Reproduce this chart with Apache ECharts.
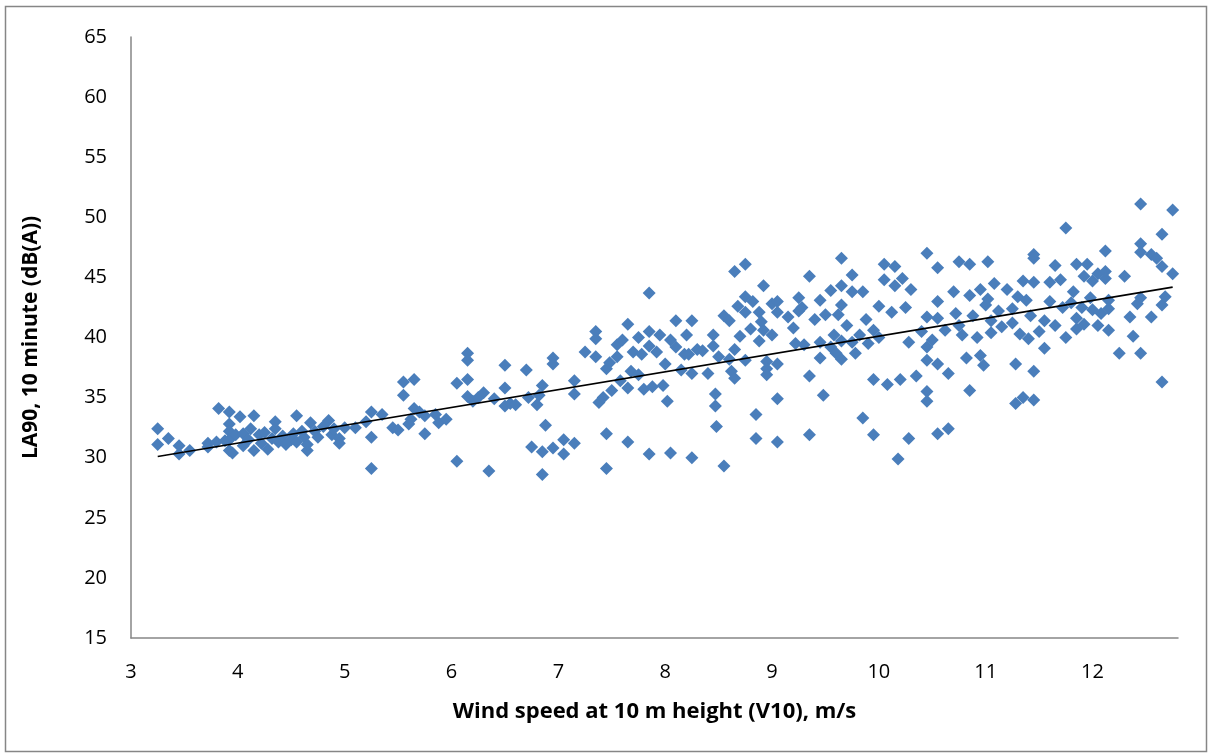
<!DOCTYPE html>
<html><head><meta charset="utf-8">
<script src="https://cdn.jsdelivr.net/npm/echarts@6/dist/echarts.min.js"></script>
<style>html,body{margin:0;padding:0;background:#fff}#c{width:1212px;height:756px}</style>
</head><body><div id="c"></div>
<script>
// Wind speed (m/s) at 10 m height
const windSpeed = [
3.25,3.25,3.35,3.45,3.45,3.55,3.72,3.72,3.8,3.82,3.88,3.92,3.92,3.92,3.92,3.92,3.95,3.98,
4.02,4.05,4.05,4.1,4.12,4.15,4.15,4.2,4.22,4.25,4.28,4.32,4.35,4.35,4.38,4.42,4.45,4.5,4.52,4.55,4.55,4.6,4.62,4.65,4.65,4.68,4.72,4.75,4.8,4.85,4.88,4.9,4.95,4.95,5.0,
5.1,5.2,5.25,5.25,5.25,5.35,5.45,5.5,5.55,5.55,5.6,5.62,5.65,5.65,5.7,5.75,5.75,5.85,5.88,5.95,
6.05,6.05,6.15,6.15,6.15,6.15,6.2,6.25,6.3,6.35,6.4,6.5,6.5,6.5,6.55,6.6,6.7,6.72,6.75,6.8,6.82,6.85,6.85,6.88,6.85,6.95,6.95,6.95,7.05,7.05,
7.15,7.15,7.15,7.25,7.35,7.35,7.35,7.38,7.42,7.45,7.45,7.45,7.48,7.5,7.55,7.55,7.58,7.6,7.65,7.65,7.65,7.68,7.7,7.75,7.75,7.78,7.8,7.85,7.85,7.85,7.85,7.88,7.92,7.95,7.98,8.0,
8.02,8.05,8.05,8.1,8.1,8.15,8.18,8.2,8.22,8.25,8.25,8.25,8.3,8.35,8.4,8.45,8.45,8.47,8.47,8.48,8.5,8.55,8.55,8.6,8.6,8.62,8.65,8.65,8.65,8.68,8.7,8.75,8.75,8.75,8.75,8.8,8.82,8.85,8.85,8.88,8.88,8.9,8.92,8.92,8.95,8.95,8.95,9.0,9.0,
9.05,9.05,9.05,9.05,9.05,9.15,9.2,9.22,9.25,9.25,9.28,9.3,9.35,9.35,9.35,9.4,9.45,9.45,9.45,9.48,9.5,9.55,9.55,9.58,9.6,9.62,9.65,9.65,9.65,9.65,9.65,9.7,9.75,9.75,9.75,9.78,9.82,9.85,9.85,9.88,9.9,9.95,9.95,9.95,10.0,10.0,
10.05,10.05,10.08,10.12,10.15,10.15,10.18,10.2,10.22,10.25,10.28,10.28,10.3,10.35,10.4,10.45,10.45,10.45,10.45,10.45,10.45,10.5,10.55,10.55,10.55,10.55,10.55,10.62,10.65,10.65,10.7,10.72,10.75,10.75,10.78,10.82,10.85,10.85,10.85,10.88,10.92,10.95,10.95,10.98,11.0,
11.02,11.02,11.05,11.05,11.08,11.12,11.15,11.2,11.25,11.25,11.28,11.28,11.3,11.32,11.35,11.35,11.38,11.4,11.42,11.45,11.45,11.45,11.45,11.45,11.5,11.55,11.55,11.6,11.6,11.65,11.65,11.7,11.72,11.75,11.75,11.8,11.82,11.85,11.85,11.85,11.9,11.92,11.92,11.95,11.98,12.0,12.0,
12.05,12.05,12.08,12.12,12.12,12.12,12.15,12.15,12.15,12.25,12.3,12.35,12.38,12.42,12.45,12.45,12.45,12.45,12.45,12.55,12.55,12.6,12.65,12.65,12.65,12.65,12.68,12.75,12.75
];
// LA90 10-minute level, dB(A)
const la90 = [
32.4,31.1,31.6,30.3,31.0,30.6,31.2,30.9,31.3,34.1,31.4,33.8,32.8,32.2,31.5,30.6,30.4,31.9,
33.4,32.0,31.0,31.5,32.4,33.5,30.6,31.9,31.2,32.1,30.7,31.6,33.0,32.4,31.3,31.8,31.1,31.5,32.0,33.5,31.3,32.2,31.7,30.6,31.1,32.9,32.2,31.7,32.6,33.1,31.9,32.4,31.6,31.2,32.5,
32.5,33.0,33.8,31.7,29.1,33.6,32.5,32.3,35.2,36.3,32.8,33.2,36.5,34.1,33.8,33.5,32.0,33.6,32.9,33.2,
36.2,29.7,38.7,38.1,36.5,35.1,34.7,35.0,35.4,28.9,34.9,34.3,35.8,37.7,34.5,34.4,37.3,35.0,30.9,34.4,35.2,30.5,28.6,32.7,36.0,38.3,37.8,30.8,31.5,30.3,
36.4,35.3,31.2,38.8,40.5,39.9,38.4,34.6,35.0,32.0,29.1,37.4,37.9,35.6,38.4,39.4,36.4,39.8,41.1,35.8,31.3,37.2,38.8,36.9,40.0,38.6,35.7,43.7,39.3,40.5,30.3,35.9,38.8,40.2,36.0,37.8,
34.7,30.4,39.8,41.4,39.2,37.3,38.6,40.2,38.6,41.4,37.0,30.0,39.0,38.9,37.0,40.2,39.3,35.3,34.3,32.6,38.4,41.8,29.3,41.4,38.2,37.2,45.5,39.0,36.6,42.6,40.1,46.1,43.4,42.1,38.1,40.7,43.0,33.6,31.6,42.1,39.7,41.3,44.3,40.6,38.0,37.4,36.9,42.8,40.2,
43.0,42.1,37.8,34.9,31.3,41.7,40.8,39.5,43.3,42.2,42.5,39.4,45.1,36.8,31.9,41.5,43.1,39.6,38.3,35.2,41.9,43.9,39.2,40.2,38.7,41.9,46.6,44.3,42.7,39.7,38.2,41.0,45.2,43.8,39.6,38.7,40.2,43.8,33.3,41.5,39.5,40.6,36.5,31.9,42.6,40.0,
46.1,44.8,36.1,42.1,44.3,45.9,29.9,36.5,44.9,42.5,31.6,39.6,44.0,36.8,40.5,47.0,41.7,39.2,38.1,35.5,34.7,39.8,45.8,43.0,41.6,37.8,32.0,40.6,37.0,32.4,43.8,42.0,46.3,41.0,40.2,38.3,46.1,43.5,35.6,41.8,40.0,44.0,38.5,37.7,42.7,
46.3,43.2,41.4,40.4,44.5,42.2,40.9,44.0,42.4,41.2,37.8,34.5,43.4,40.3,44.7,35.0,43.1,39.9,41.8,46.9,46.6,44.6,37.2,34.8,40.5,39.1,41.4,44.6,43.0,46.0,41.0,44.8,42.5,49.1,40.0,42.9,43.8,46.1,41.6,40.7,42.5,45.1,41.1,46.1,43.3,44.7,42.3,
45.3,41.0,42.0,47.2,45.5,44.9,43.1,42.4,40.6,38.7,45.1,41.7,40.1,42.8,51.1,47.8,47.1,43.3,38.7,46.9,41.7,46.6,48.6,45.9,42.7,36.3,43.4,50.6,45.3
];
// Linear trend line end points
const trendX = [3.25, 12.75];
const trendY = [30.1, 44.2];

const points = windSpeed.map((x, i) => [x, la90[i]]);
const trend = trendX.map((x, i) => [x, trendY[i]]);
const FONT = "'Open Sans', 'Liberation Sans', sans-serif";

const chart = echarts.init(document.getElementById('c'), null, {renderer: 'canvas'});
chart.setOption({
  animation: false,
  backgroundColor: '#ffffff',
  grid: {left: 131, right: 34, top: 37, bottom: 118, containLabel: false},
  xAxis: {
    type: 'value', min: 3, max: 12.8, interval: 1,
    name: 'Wind speed at 10 m height (V10), m/s',
    nameLocation: 'middle', nameGap: 63,
    nameTextStyle: {fontFamily: FONT, fontWeight: 'bold', fontSize: 22, color: '#000'},
    axisLine: {show: true, lineStyle: {color: '#868686', width: 1.5}},
    axisTick: {show: false},
    splitLine: {show: false},
    axisLabel: {fontFamily: FONT, fontSize: 20, color: '#000', margin: 24,
      formatter: v => Number.isInteger(v) ? String(v) : ''}
  },
  yAxis: {
    type: 'value', min: 15, max: 65, interval: 5,
    name: 'LA90, 10 minute (dB(A))',
    nameLocation: 'middle', nameGap: 89, nameRotate: 90,
    nameTextStyle: {fontFamily: FONT, fontWeight: 'bold', fontSize: 21, color: '#000'},
    axisLine: {show: true, lineStyle: {color: '#868686', width: 1.5}},
    axisTick: {show: false},
    splitLine: {show: false},
    axisLabel: {fontFamily: FONT, fontSize: 20, color: '#000', margin: 24}
  },
  series: [
    {type: 'scatter', data: points, symbol: 'diamond', symbolSize: 13,
     itemStyle: {color: '#4a7ebb', opacity: 1}},
    {type: 'line', data: trend, symbol: 'none', lineStyle: {color: '#000', width: 1.75}, z: 5}
  ],
  graphic: [{type: 'rect', shape: {x: 5.5, y: 6.5, width: 1201, height: 745},
    style: {fill: 'none', stroke: '#868686', lineWidth: 1.5}, silent: true}]
});
</script></body></html>
